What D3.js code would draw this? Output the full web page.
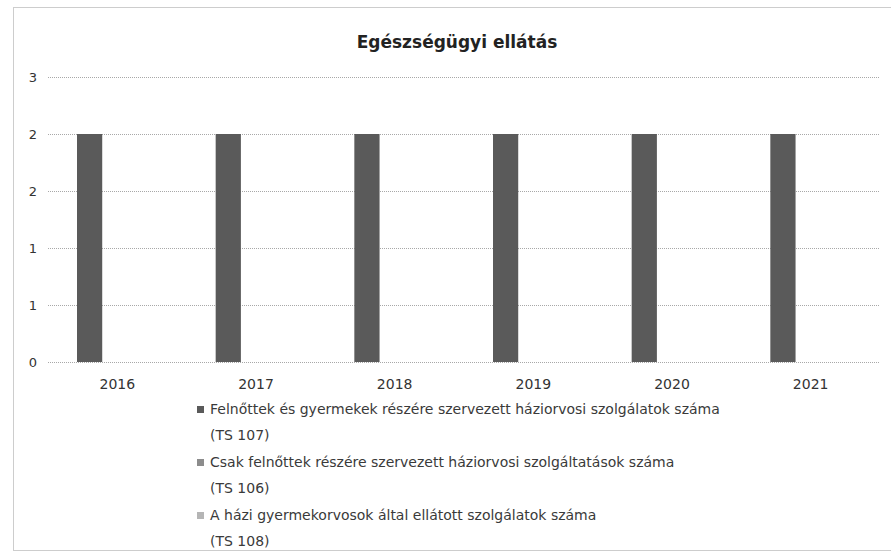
<!DOCTYPE html>
<html>
<head>
<meta charset="utf-8">
<script src="https://cdn.jsdelivr.net/npm/d3@7"></script>
<style>
  body { margin: 0; background: #fff; }
  text { font-family: "DejaVu Sans", Verdana, sans-serif; fill: #3a3a3a; }
</style>
</head>
<body>
<svg id="chart"></svg>
<script>
var years = ['2016', '2017', '2018', '2019', '2020', '2021']
var ts107 = [2, 2, 2, 2, 2, 2]
var ts106 = [0, 0, 0, 0, 0, 0]
var ts108 = [0, 0, 0, 0, 0, 0]
var yTickValues = [0, 0.5, 1, 1.5, 2, 2.5]
var seriesNames = ['TS 107', 'TS 106', 'TS 108']
var legendLines = [
  ['Felnőttek és gyermekek részére szervezett háziorvosi szolgálatok száma', '(TS 107)'],
  ['Csak felnőttek részére szervezett háziorvosi szolgáltatások száma', '(TS 106)'],
  ['A házi gyermekorvosok által ellátott szolgálatok száma', '(TS 108)']
]
var title = 'Egészségügyi ellátás'

var width = 891
var height = 557
var svg = d3.select('#chart')
  .attr('width', width)
  .attr('height', height)

// outer frame, dotted like the scan
svg.append('rect')
  .attr('x', 13.5)
  .attr('y', 7.5)
  .attr('width', width)
  .attr('height', 543)
  .attr('fill', 'none')
  .attr('stroke', '#9a9a9a')
  .attr('stroke-dasharray', '1,1')

svg.append('text')
  .attr('x', 457)
  .attr('y', 48)
  .attr('text-anchor', 'middle')
  .attr('font-size', '17px')
  .attr('font-weight', 'bold')
  .style('fill', '#222')
  .text(title)

var x = d3.scaleBand()
  .domain(years)
  .range([48, 880])
var x1 = d3.scaleBand()
  .domain(seriesNames)
  .range([29, x.bandwidth() - 34])
var y = d3.scaleLinear()
  .domain([0, 2.5])
  .range([362, 77])

var grid = svg.append('g')
grid.selectAll('line')
  .data(yTickValues)
  .enter()
  .append('line')
  .attr('x1', 48)
  .attr('x2', 880)
  .attr('y1', function(d) { return Math.round(y(d)) + 0.5 })
  .attr('y2', function(d) { return Math.round(y(d)) + 0.5 })
  .attr('stroke', '#a8a8a8')
  .attr('stroke-dasharray', '1,1')

var yAxis = svg.append('g')
  .attr('transform', 'translate(48,0)')
  .call(d3.axisLeft(y)
    .tickValues(yTickValues)
    .tickSize(0)
    .tickPadding(11)
    .tickFormat(function(d) { return Math.round(d) }))
yAxis.select('.domain').remove()
yAxis.selectAll('text').attr('font-size', '13px').style('fill', '#333')

var xAxis = svg.append('g')
  .attr('transform', 'translate(0,362)')
  .call(d3.axisBottom(x).tickSize(0).tickPadding(17))
xAxis.select('.domain').remove()
xAxis.selectAll('text').attr('font-size', '14px').style('fill', '#333')

var rows = years.map(function(yr, i) {
  return { year: yr, values: [ts107[i], ts106[i], ts108[i]] }
})
var colors = ['#5a5a5a', '#8c8c8c', '#b5b5b5']

var groups = svg.append('g')
  .selectAll('g')
  .data(rows)
  .enter()
  .append('g')
  .attr('transform', function(d) { return 'translate(' + x(d.year) + ',0)' })

groups.selectAll('rect')
  .data(function(d) { return d.values.map(function(v, k) { return { name: seriesNames[k], value: v, k: k } }) })
  .enter()
  .append('rect')
  .attr('x', function(d) { return x1(d.name) })
  .attr('width', x1.bandwidth())
  .attr('y', function(d) { return y(d.value) })
  .attr('height', function(d) { return y(0) - y(d.value) })
  .attr('fill', function(d) { return colors[d.k] })

var legend = svg.append('g')
var item = legend.selectAll('g')
  .data(legendLines)
  .enter()
  .append('g')
  .attr('transform', function(d, i) { return 'translate(197,' + (414 + i * 53) + ')' })
item.append('rect')
  .attr('x', 0)
  .attr('y', -8)
  .attr('width', 7)
  .attr('height', 7)
  .attr('fill', function(d, i) { return colors[i] })
item.append('text')
  .attr('x', 13)
  .attr('y', 0)
  .attr('font-size', '14px')
  .text(function(d) { return d[0] })
item.append('text')
  .attr('x', 13)
  .attr('y', 26)
  .attr('font-size', '14px')
  .text(function(d) { return d[1] })
</script>
</body>
</html>
